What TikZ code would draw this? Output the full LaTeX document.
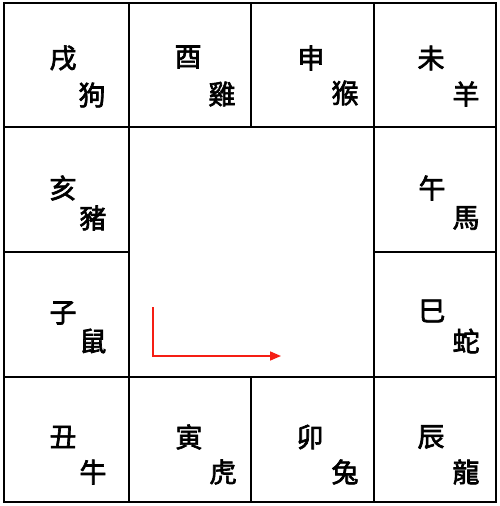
\documentclass[tikz,border=0pt]{standalone}
\usepackage{fontspec}
\newfontfamily\cjk{Noto Sans CJK TC}[FakeBold=2.5]
\usetikzlibrary{arrows.meta}
\definecolor{arrowred}{RGB}{245,30,20}
\begin{document}
\begin{tikzpicture}[x=1pt,y=-1pt,
  ch/.style={font=\cjk\fontsize{27}{27}\selectfont, inner sep=0pt, anchor=center},
  gridline/.style={line width=2pt, black},
  redarrow/.style={draw=arrowred, line width=1.6pt, -{Triangle[length=11pt,width=9pt]}}]
\useasboundingbox (0,0) rectangle (499,506);
\fill[white] (0,0) rectangle (499,506);
% grid
\draw[gridline] (4,3) rectangle (496,502);
\draw[gridline] (4,127) -- (496,127);
\draw[gridline] (4,377) -- (496,377);
\draw[gridline] (4,252) -- (129,252);
\draw[gridline] (374,252) -- (496,252);
\draw[gridline] (129,3) -- (129,502);
\draw[gridline] (374,3) -- (374,502);
\draw[gridline] (251,3) -- (251,127);
\draw[gridline] (251,377) -- (251,502);
% row 1
\node[ch] (xu)   at (63,58)  {戌};
\node[ch] (gou)  at (92,95)  {狗};
\node[ch] (you)  at (188,57) {酉};
\node[ch] (ji)   at (222,94) {雞};
\node[ch] (shen) at (311,58) {申};
\node[ch] (hou)  at (345,93) {猴};
\node[ch] (wei)  at (431,58) {未};
\node[ch] (yang) at (466,94) {羊};
% row 2
\node[ch] (hai)  at (63,188)  {亥};
\node[ch] (zhu)  at (93,218)  {豬};
\node[ch] (wu)   at (432,188) {午};
\node[ch] (ma)   at (466,218) {馬};
% row 3
\node[ch] (zi)   at (63,313)  {子};
\node[ch] (shu)  at (93,341)  {鼠};
\node[ch] (si)   at (432,311) {巳};
\node[ch] (she)  at (466,341) {蛇};
% row 4
\node[ch] (chou) at (63,437)  {丑};
\node[ch] (niu)  at (93,472)  {牛};
\node[ch] (yin)  at (189,437) {寅};
\node[ch] (hu)   at (223,472) {虎};
\node[ch] (mao)  at (310,437) {卯};
\node[ch] (tu)   at (345,472) {兔};
\node[ch] (chen) at (431,437) {辰};
\node[ch] (long) at (466,472) {龍};
% arrow
\coordinate (astart) at (153,307);
\coordinate (aend) at (281,356);
\draw[redarrow] (astart) |- (aend);
\end{tikzpicture}
\end{document}
